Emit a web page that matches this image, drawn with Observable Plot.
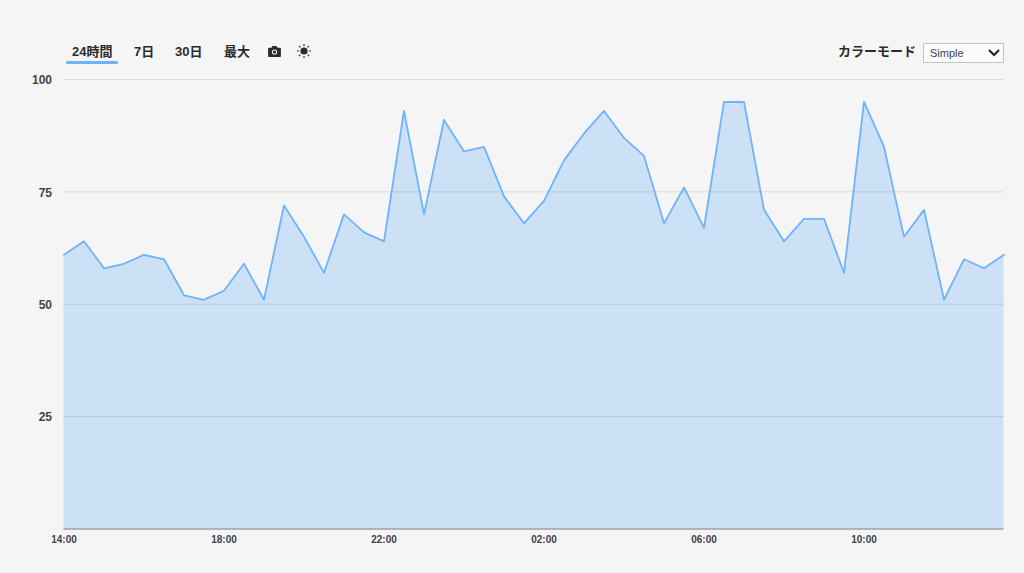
<!DOCTYPE html>
<html lang="ja">
<head>
<meta charset="utf-8">
<script src="https://cdn.jsdelivr.net/npm/d3@7"></script>
<script src="https://cdn.jsdelivr.net/npm/@observablehq/plot@0.6"></script>
<style>
html,body{margin:0;padding:0;background:#f5f5f5;width:1024px;height:573px;overflow:hidden;font-family:"Liberation Sans","Noto Sans CJK JP",sans-serif;}
#chart{position:absolute;left:0;top:0;}
.tab{position:absolute;top:44px;font-size:13px;font-weight:bold;color:#2b2b2b;line-height:16px;white-space:nowrap;font-family:"Liberation Sans","Noto Sans CJK JP",sans-serif;}
#underline{position:absolute;left:66px;top:61px;width:52px;height:3px;border-radius:1.5px;background:#6fb3ff;}
#mode{position:absolute;left:838px;top:44px;font-size:13px;font-weight:bold;color:#2b2b2b;line-height:16px;}
#sel{position:absolute;left:923px;top:43px;width:79px;height:18px;border:1px solid #c4c4c4;background:#fbfbfb;font-size:11px;color:#444;line-height:18px;}
#sel span{position:absolute;left:6px;top:0;}
#sel svg{position:absolute;left:64px;top:5px;}
.icon{position:absolute;}
</style>
</head>
<body>
<div id="chart"></div>
<div class="tab" style="left:72px">24時間</div>
<div id="underline"></div>
<div class="tab" style="left:134px">7日</div>
<div class="tab" style="left:175px">30日</div>
<div class="tab" style="left:224px">最大</div>
<svg class="icon" style="left:268px;top:46px" width="13" height="11" viewBox="0 0 14 12"><path fill="#2b2b2b" d="M1.2 1.8h2.6L4.8 0h4.4l1 1.8h2.6c.7 0 1.2.5 1.2 1.2v7.8c0 .7-.5 1.2-1.2 1.2H1.2C.5 12 0 11.500 0 10.800V3c0-.7.5-1.200 1.200-1.200z"/><circle cx="7" cy="6.600" r="2.900" fill="#f5f5f5"/><circle cx="7" cy="6.600" r="1.800" fill="#2b2b2b"/></svg>
<svg class="icon" style="left:297px;top:44px" width="14" height="14" viewBox="0 0 14 14"><circle cx="7" cy="7" r="3.600" fill="#2b2b2b"/><g stroke="#2b2b2b" stroke-width="1.100"><path d="M7 0v2M7 12v2M0 7h2M12 7h2M2 2l1.400 1.400M10.600 10.600L12 12M2 12l1.400-1.400M10.600 3.400L12 2"/></g></svg>
<div id="mode">カラーモード</div>
<div id="sel"><span>Simple</span><svg width="12" height="8" viewBox="0 0 12 8"><path d="M1 1l5 5 5-5" fill="none" stroke="#222" stroke-width="2"/></svg></div>
<script>
const values = [61,64,58,59,61,60,52,51,53,59,51,72,65,57,70,66,64,93,70,91,84,85,74,68,73,82,88,93,87,83,68,76,67,95,95,71,64,69,69,57,95,85,65,71,51,60,58,61];
const startTime = new Date(Date.UTC(2021,0,1,14,0));
const yTicks = [25,50,75,100];
const xTickHours = [0,4,8,12,16,20];
const stepMinutes = 30;
const series = values.map((v,i)=>({t:d3.utcMinute.offset(startTime,i*stepMinutes),v}));
const xTicks = xTickHours.map(h=>d3.utcHour.offset(startTime,h));

const plot = Plot.plot({
  width:1024,height:573,
  marginLeft:63.5,marginRight:20.5,marginTop:79,marginBottom:44.5,
  style:{background:"transparent",fontFamily:"'Liberation Sans',sans-serif",overflow:"visible"},
  x:{type:"utc",domain:[series[0].t,series[series.length-1].t]},
  y:{domain:[0,100]},
  marks:[
    Plot.areaY(series,{x:"t",y:"v",fill:"#cde1f6"}),
    Plot.ruleY(yTicks,{stroke:"#000",strokeOpacity:0.11,strokeWidth:1}),
    Plot.lineY(series,{x:"t",y:"v",stroke:"#6fb3ff",strokeWidth:1.8,curve:"linear"}),
    Plot.ruleY([0],{stroke:"#9a9fa6",strokeWidth:1.5}),
    Plot.axisY({ticks:yTicks,tickSize:0,tickPadding:12,fontSize:12,fontWeight:"bold",color:"#444",label:null,dy:1}),
    Plot.axisX({ticks:xTicks,tickSize:0,tickPadding:7,fontSize:10,fontWeight:"bold",color:"#444",label:null,tickFormat:d3.utcFormat("%H:%M")})
  ]
});
document.getElementById("chart").append(plot);
</script>
</body>
</html>
